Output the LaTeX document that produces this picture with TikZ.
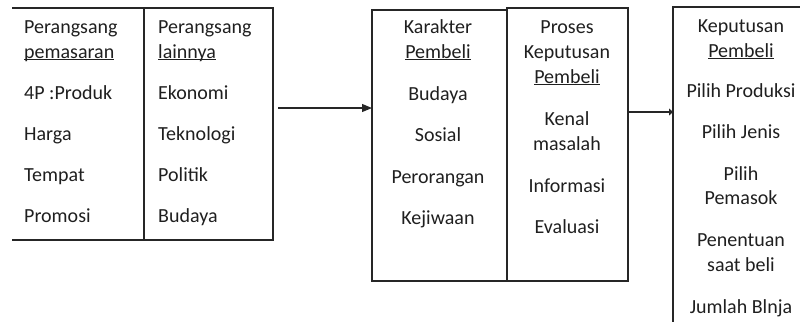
\documentclass[tikz,border=0pt]{standalone}
\usepackage{fontspec}
\setmainfont{Carlito}
\usetikzlibrary{arrows.meta}
\newcommand\myul[1]{\setbox0=\hbox{#1}\rlap{\rule[-2.2pt]{\wd0}{0.9pt}}\box0}
\begin{document}
\begin{tikzpicture}[x=1pt,y=-1pt,
  txt/.style={inner sep=0pt,font=\fontsize{20}{25}\selectfont,text=black!88},
  lt/.style={txt,anchor=base west},
  ct/.style={txt,anchor=base},
  frame/.style={draw=black!85,line width=1.1pt},
  hid/.style={inner sep=0pt,outer sep=0pt},
  arr/.style={draw=black!85,line width=1.1pt,-{Triangle[length=10pt,width=8pt]}},
  arrs/.style={draw=black!85,line width=1.1pt,-{Triangle[length=4pt,width=7pt]}}]
\useasboundingbox (0,0) rectangle (800,322);
% box 1
\node[hid,minimum width=261pt,minimum height=232pt] (b1) at (142.5,124) {};
\draw[frame] (b1.north west) -- (b1.north east) -- (b1.south east) -- (b1.south west);
\draw[frame] (144,8) -- (144,240);
\node[lt] (l1) at (24,33) {Perangsang};
\node[lt] (l2) at (24,58) {\myul{pemasaran}};
\node[lt] (l3) at (24,99) {4P :Produk};
\node[lt] (l4) at (24,140) {Harga};
\node[lt] (l5) at (24,181) {Tempat};
\node[lt] (l6) at (24,222) {Promosi};
\node[lt] (r1) at (158,33) {Perangsang};
\node[lt] (r2) at (158,58) {\myul{lainnya}};
\node[lt] (r3) at (158,99) {Ekonomi};
\node[lt] (r4) at (158,140) {Teknologi};
\node[lt] (r5) at (158,181) {Politik};
\node[lt] (r6) at (158,222) {Budaya};
% box 2
\node[frame,hid,minimum width=135pt,minimum height=271pt] (b2a) at (439.5,145.5) {};
\node[frame,hid,minimum width=121pt,minimum height=273pt] (b2b) at (567.5,144.5) {};
\node[ct] (k1) at (438,33) {Karakter};
\node[ct] (k2) at (438,58) {\myul{Pembeli}};
\node[ct] (k3) at (438,100) {Budaya};
\node[ct] (k4) at (438,141) {Sosial};
\node[ct] (k5) at (438,183) {Perorangan};
\node[ct] (k6) at (438,224) {Kejiwaan};
\node[ct] (p1) at (567,33) {Proses};
\node[ct] (p2) at (567,58) {Keputusan};
\node[ct] (p3) at (567,83) {\myul{Pembeli}};
\node[ct] (p4) at (567,125) {Kenal};
\node[ct] (p5) at (567,150) {masalah};
\node[ct] (p6) at (567,192) {Informasi};
\node[ct] (p7) at (567,233) {Evaluasi};
% box 3
\node[hid,minimum width=127pt,minimum height=315pt] (b3) at (736.5,164.5) {};
\draw[frame] (b3.north east) -- (b3.north west) -- (b3.south west);
\node[ct] (d1) at (741,32) {Keputusan};
\node[ct] (d2) at (741,57) {\myul{Pembeli}};
\node[ct] (d3) at (741,97) {Pilih Produksi};
\node[ct] (d4) at (741,138) {Pilih Jenis};
\node[ct] (d5) at (741,180) {Pilih};
\node[ct] (d6) at (741,204) {Pemasok};
\node[ct] (d7) at (741,246) {Penentuan};
\node[ct] (d8) at (741,271) {saat beli};
\node[ct] (d9) at (741,313) {Jumlah Blnja};
% connectors
\coordinate (a1s) at (278,108);
\draw[arr] (a1s) -- (a1s -| b2a.west);
\coordinate (a2s) at (628,112);
\draw[arrs] (a2s) -- (a2s -| b3.west);
\end{tikzpicture}
\end{document}
